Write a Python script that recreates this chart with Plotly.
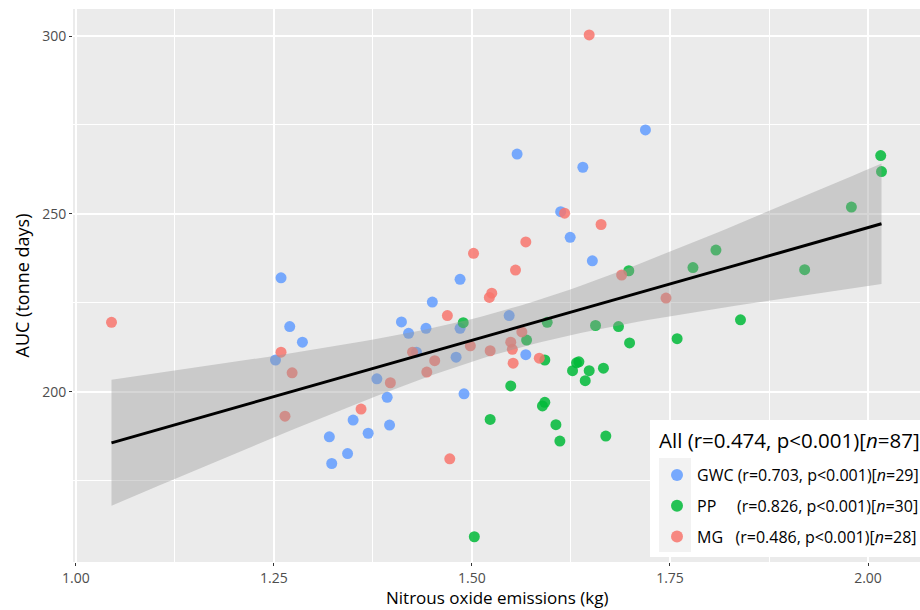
import numpy as np
import plotly.graph_objects as go

# Nitrous oxide emissions (kg) and AUC (tonne days) per treatment
gwc_x = [1.557, 1.640, 1.612, 1.624, 1.652, 1.485, 1.450, 1.411, 1.420, 1.442,
         1.485, 1.547, 1.430, 1.480, 1.568, 1.380, 1.393, 1.490, 1.350, 1.369,
         1.396, 1.719, 1.259, 1.270, 1.286, 1.252, 1.320, 1.343, 1.323]
gwc_y = [266.8, 263.1, 250.6, 243.4, 236.8, 231.6, 225.2, 219.6, 216.4, 217.8,
         217.8, 221.4, 211.1, 209.7, 210.4, 203.6, 198.4, 199.4, 192.0, 188.3,
         190.6, 273.6, 232.0, 218.3, 213.9, 208.9, 187.3, 182.6, 179.8]

pp_x = [1.698, 1.489, 1.595, 1.656, 1.685, 1.699, 1.569, 1.592, 1.632, 1.635,
        1.627, 1.648, 1.643, 1.666, 1.549, 1.592, 1.589, 1.523, 1.606, 1.611,
        1.669, 1.503, 2.016, 2.017, 1.979, 1.808, 1.779, 1.920, 1.759, 1.839]
pp_y = [234.0, 219.4, 219.5, 218.6, 218.3, 213.7, 214.5, 208.9, 208.1, 208.4,
        205.9, 205.9, 203.1, 206.6, 201.6, 197.0, 196.0, 192.2, 190.7, 186.1,
        187.5, 159.2, 266.4, 261.9, 251.9, 239.8, 234.9, 234.3, 214.9, 220.2]

mg_x = [1.648, 1.617, 1.663, 1.568, 1.502, 1.555, 1.525, 1.522, 1.689, 1.745,
        1.469, 1.563, 1.425, 1.453, 1.443, 1.498, 1.523, 1.549, 1.551, 1.552,
        1.585, 1.397, 1.360, 1.045, 1.259, 1.273, 1.264, 1.472]
mg_y = [300.3, 250.2, 247.0, 242.1, 238.9, 234.2, 227.7, 226.5, 232.8, 226.3,
        221.4, 216.8, 211.1, 208.7, 205.5, 212.9, 211.5, 213.9, 211.9, 208.0,
        209.4, 202.5, 195.1, 219.5, 211.1, 205.3, 193.1, 181.1]

groups = ["GWC", "PP", "MG"]
group_colors = {"GWC": "#619CFF", "PP": "#00BA38", "MG": "#F8766D"}
group_labels = {
    "GWC": "GWC (r=0.703, p&lt;0.001)[<i>n</i>=29]",
    "PP": "PP\u00a0\u00a0\u00a0\u00a0\u00a0(r=0.826, p&lt;0.001)[<i>n</i>=30]",
    "MG": "MG\u00a0\u00a0\u00a0(r=0.486, p&lt;0.001)[<i>n</i>=28]",
}
all_label = "All (r=0.474, p&lt;0.001)[<i>n</i>=87]"
group_data = {"GWC": (gwc_x, gwc_y), "PP": (pp_x, pp_y), "MG": (mg_x, mg_y)}

x_ticks = [1.00, 1.25, 1.50, 1.75, 2.00]
y_ticks = [200, 250, 300]

# pooled linear fit with 99% confidence band (lm smoother)
all_x = np.array(gwc_x + pp_x + mg_x)
all_y = np.array(gwc_y + pp_y + mg_y)
n = all_x.size
slope, intercept = np.polyfit(all_x, all_y, 1)
resid = all_y - (slope * all_x + intercept)
s = np.sqrt(np.sum(resid ** 2) / (n - 2))
xbar = all_x.mean()
sxx = np.sum((all_x - xbar) ** 2)
t_crit = 2.6349  # t(0.995, df=85)
grid = np.linspace(all_x.min(), all_x.max(), 80)
fit = slope * grid + intercept
se = s * np.sqrt(1 / n + (grid - xbar) ** 2 / sxx)
upper = fit + t_crit * se
lower = fit - t_crit * se

fig = go.Figure()

for g in groups:
    gx, gy = group_data[g]
    fig.add_trace(go.Scatter(
        x=gx, y=gy, mode="markers", name=group_labels[g], legendgroup=g,
        marker=dict(size=11, color=group_colors[g], opacity=0.85, line=dict(width=0)),
    ))

fig.add_trace(go.Scatter(
    x=np.concatenate([grid, grid[::-1]]), y=np.concatenate([upper, lower[::-1]]),
    mode="lines", fill="toself", fillcolor="rgba(153,153,153,0.4)",
    line=dict(width=0), hoverinfo="skip", showlegend=False,
))
fig.add_trace(go.Scatter(
    x=grid, y=fit, mode="lines", line=dict(color="black", width=3),
    hoverinfo="skip", showlegend=False,
))

font_family = "Open Sans, Liberation Sans, Arial, sans-serif"
W, H = 920, 610
ml, mr, mt, mb = 73, 0, 9, 48
pw, ph = W - ml - mr, H - mt - mb


def px_to_paper_x(px):
    return (px - ml) / pw


def px_to_paper_y(py):
    return (H - mb - py) / ph


# legend panel and grey key strip
fig.add_shape(type="rect", xref="paper", yref="paper", layer="above",
              x0=px_to_paper_x(650), x1=px_to_paper_x(925),
              y0=px_to_paper_y(557), y1=px_to_paper_y(420),
              fillcolor="white", line=dict(width=0))
fig.add_shape(type="rect", xref="paper", yref="paper", layer="above",
              x0=px_to_paper_x(659), x1=px_to_paper_x(691),
              y0=px_to_paper_y(552), y1=px_to_paper_y(458),
              fillcolor="#F2F2F2", line=dict(width=0))

# legend heading for the pooled fit
fig.add_annotation(
    text=all_label, xref="paper", yref="paper",
    x=px_to_paper_x(657), y=px_to_paper_y(440),
    xanchor="left", yanchor="middle", showarrow=False,
    font=dict(size=20.5, color="black", family=font_family),
)

# x-axis title placed below the tick labels
fig.add_annotation(
    text="Nitrous oxide emissions (kg)", xref="paper", yref="paper",
    x=0.5, y=px_to_paper_y(609.8), xanchor="center", yanchor="bottom",
    showarrow=False, borderpad=0,
    font=dict(size=17, color="black", family=font_family),
)

axis_common = dict(
    showgrid=True, gridcolor="white", gridwidth=1.6, zeroline=False,
    ticks="outside", ticklen=3, tickwidth=1.1, tickcolor="#333333",
    tickfont=dict(size=14, color="#4D4D4D", family=font_family),
    showline=False,
)

fig.update_layout(
    width=W, height=H,
    margin=dict(l=ml, r=mr, t=mt, b=mb, autoexpand=False),
    paper_bgcolor="white", plot_bgcolor="#EBEBEB",
    font=dict(family=font_family, color="black"),
    xaxis=dict(
        range=[0.9964, 2.0656], tickvals=x_ticks,
        ticktext=[f"{v:.2f}" for v in x_ticks],
        minor=dict(dtick=0.125, tick0=1.0, showgrid=True, gridcolor="white",
                   gridwidth=0.7, ticks=""),
        **axis_common,
    ),
    yaxis=dict(
        range=[152.1, 307.6], tickvals=y_ticks,
        minor=dict(dtick=25, tick0=200, showgrid=True, gridcolor="white",
                   gridwidth=0.7, ticks=""),
        title=dict(text="AUC (tonne days)", font=dict(size=18), standoff=7),
        **axis_common,
    ),
    legend=dict(
        x=px_to_paper_x(657), y=px_to_paper_y(458), xanchor="left", yanchor="top",
        bgcolor="rgba(0,0,0,0)", borderwidth=0,
        font=dict(size=16, color="black", family=font_family),
        tracegroupgap=7, itemsizing="constant",
    ),
)

fig.write_html("out.html")
